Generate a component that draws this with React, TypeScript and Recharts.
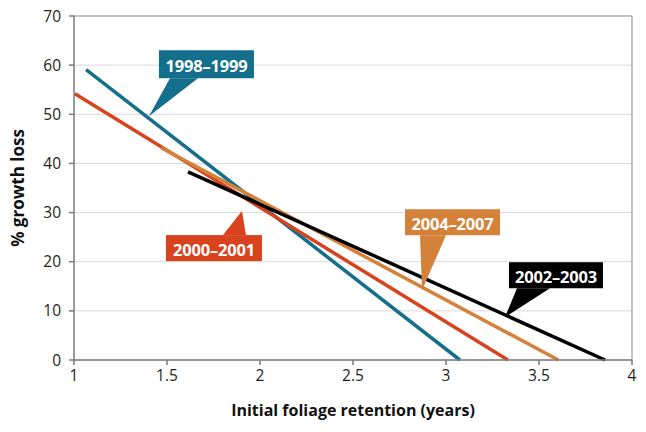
import React from 'react';
import { LineChart, Line, XAxis, YAxis, CartesianGrid, ReferenceLine, ReferenceDot, Label } from 'recharts';

// Axis ticks
const xTicks = [1, 1.5, 2, 2.5, 3, 3.5, 4];
const yTicks = [0, 10, 20, 30, 40, 50, 60, 70];

// Fitted lines (x = foliage retention, y = % growth loss)
const series9899 = [
  { x: 1.065, y: 59.1 },
  { x: 3.075, y: 0 },
];
const series0001 = [
  { x: 1.005, y: 54.2 },
  { x: 3.333, y: 0 },
];
const series0203 = [
  { x: 1.613, y: 38.3 },
  { x: 3.855, y: 0 },
];
const series0407 = [
  { x: 1.468, y: 43.2 },
  { x: 3.604, y: 0 },
];

const FONT = '"Open Sans", "Noto Sans", sans-serif';

const colors = {
  s9899: '#136f8b',
  s0001: '#d8431d',
  s0203: '#000000',
  s0407: '#d4823a',
};

// Callout labels: tip sits on the line, box is offset in pixels from the tip
const callouts = [
  { label: '1998–1999', color: colors.s9899, tipX: 1.403, tipY: 49.6, dx: 10, dy: -66, w: 95, h: 28, b1: 21, b2: 49, fromTop: false },
  { label: '2000–2001', color: colors.s0001, tipX: 1.903, tipY: 30.3, dx: -76, dy: 24, w: 96, h: 26, b1: -19, b2: 4, fromTop: true },
  { label: '2004–2007', color: colors.s0407, tipX: 2.871, tipY: 14.2, dx: -17, dy: -81, w: 95, h: 26, b1: -2, b2: 24, fromTop: false },
  { label: '2002–2003', color: colors.s0203, tipX: 3.317, tipY: 8.7, dx: 4, dy: -55, w: 94, h: 26, b1: 12, b2: 45, fromTop: false },
];

function Callout(props: any) {
  const { cx, cy, c } = props;
  if (cx == null || cy == null) return null;
  const left = cx + c.dx;
  const top = cy + c.dy;
  const edgeY = c.fromTop ? top : top + c.h;
  const pts = `${cx + c.b1},${edgeY} ${cx},${cy} ${cx + c.b2},${edgeY}`;
  return (
    <g>
      <polygon points={pts} fill={c.color} />
      <rect x={left} y={top} width={c.w} height={c.h} fill={c.color} />
      <text
        x={left + c.w / 2}
        y={top + c.h / 2 + 1}
        textAnchor="middle"
        dominantBaseline="central"
        fill="#ffffff"
        fontFamily={FONT}
        fontWeight={700}
        fontSize={16.5}
        letterSpacing={-0.2}
      >
        {c.label}
      </text>
    </g>
  );
}

export default function App() {
  const tickStyle = { fill: '#231f20', fontSize: 15.5, fontFamily: FONT };
  return (
    <div style={{ position: 'absolute', left: 0, top: 0, background: '#fff' }}>
      <LineChart width={646} height={432} margin={{ top: 16, right: 14, left: 8, bottom: 12 }}>
        <CartesianGrid vertical={false} stroke="#d9d9d9" strokeWidth={1} />
        <XAxis
          type="number"
          dataKey="x"
          domain={[1, 4]}
          ticks={xTicks}
          allowDataOverflow
          height={60}
          tickSize={5}
          tickMargin={5}
          tick={tickStyle}
          stroke="#7a7a7a"
          strokeWidth={1.5}
        >
          <Label
            value="Initial foliage retention (years)"
            position="insideBottom"
            offset={4}
            style={{ fill: '#111', fontSize: 16, fontWeight: 700, fontFamily: FONT }}
          />
        </XAxis>
        <YAxis
          type="number"
          domain={[0, 70]}
          ticks={yTicks}
          width={66}
          tickSize={5}
          tickMargin={8}
          tick={tickStyle}
          stroke="#7a7a7a"
          strokeWidth={1.5}
        >
          <Label
            value="% growth loss"
            angle={-90}
            position="insideLeft"
            offset={10}
            style={{ textAnchor: 'middle', fill: '#111', fontSize: 17, fontWeight: 700, fontFamily: FONT }}
          />
        </YAxis>
        <ReferenceLine y={70} stroke="#9a9a9a" strokeWidth={1.2} />
        <ReferenceLine x={4} stroke="#9a9a9a" strokeWidth={1.2} />
        <Line data={series9899} dataKey="y" type="linear" stroke={colors.s9899} strokeWidth={3.5} dot={false} isAnimationActive={false} />
        <Line data={series0001} dataKey="y" type="linear" stroke={colors.s0001} strokeWidth={3.5} dot={false} isAnimationActive={false} />
        <Line data={series0407} dataKey="y" type="linear" stroke={colors.s0407} strokeWidth={3.5} dot={false} isAnimationActive={false} />
        <Line data={series0203} dataKey="y" type="linear" stroke={colors.s0203} strokeWidth={3.5} dot={false} isAnimationActive={false} />
        {callouts.map((c) => (
          <ReferenceDot
            key={c.label}
            x={c.tipX}
            y={c.tipY}
            r={0}
            shape={(p: any) => <Callout {...p} c={c} />}
          />
        ))}
      </LineChart>
    </div>
  );
}
